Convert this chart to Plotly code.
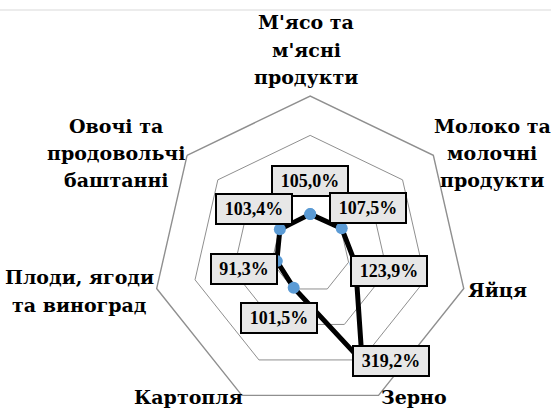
import math
import plotly.graph_objects as go

categories = ["М'ясо та м'ясні продукти", "Молоко та молочні продукти", "Яйця", "Зерно",
              "Картопля", "Плоди, ягоди та виноград", "Овочі та продовольчі баштанні"]
cat_lines = [["М'ясо та", "м'ясні", "продукти"], ["Молоко та", "молочні", "продукти"], ["Яйця"], ["Зерно"],
             ["Картопля"], ["Плоди, ягоди", "та виноград"], ["Овочі та", "продовольчі", "баштанні"]]
values = [105.0, 107.5, 123.9, 319.2, 101.5, 91.3, 103.4]
value_text = ["105,0%", "107,5%", "123,9%", "319,2%", "101,5%", "91,3%", "103,4%"]

W, H = 551, 411
RMAX = 420
dom_x = [0.27713, 0.84882]
dom_y = [0.0, 0.76642]

fig = go.Figure()
fig.add_trace(go.Scatterpolar(
    r=values + values[:1], theta=categories + categories[:1],
    mode="lines+markers",
    line=dict(color="black", width=5),
    marker=dict(color="#5b9bd5", size=12),
    hoverinfo="skip", showlegend=False))

serif = "Liberation Serif, DejaVu Serif, serif"
cyr_serif = "DejaVu Serif, Liberation Serif, serif"
annotations = []
cxp = (dom_x[0] + dom_x[1]) / 2
cyp = (dom_y[0] + dom_y[1]) / 2
Rpx = min((dom_x[1] - dom_x[0]) * W, (dom_y[1] - dom_y[0]) * H) / 2
n = len(values)
label_offsets = [(0, -33), (26, -20), (34, 7), (29, 0), (-15, 30), (-33, 8), (-26, -20)]
for i, (v, t) in enumerate(zip(values, value_text)):
    ang = math.radians(90 - i * 360 / n)
    rp = v / RMAX * Rpx
    xp = cxp + rp * math.cos(ang) / W
    yp = cyp + rp * math.sin(ang) / H
    dx, dy = label_offsets[i]
    annotations.append(dict(
        x=xp, y=yp, xref="paper", yref="paper", text="<b>" + t + "</b>", showarrow=False,
        xshift=dx, yshift=-dy, xanchor="center", yanchor="middle",
        font=dict(family=serif, size=18, color="black"),
        bgcolor="#e7e7e7", bordercolor="black", borderwidth=2, borderpad=3,
        width=(58 if len(t) < 6 else 68), height=22, align="center"))

cat_pos = [(306, 50), (492, 153), (497, 290), (414, 397), (188, 397), (79, 291), (116, 153)]
line_gap = 27.5
for lines, (px, py) in zip(cat_lines, cat_pos):
    k = len(lines)
    for j, ln in enumerate(lines):
        ly = py + (j - (k - 1) / 2) * line_gap
        annotations.append(dict(
            x=px / W, y=1 - ly / H, xref="paper", yref="paper", text="<b>" + ln + "</b>",
            showarrow=False, xanchor="center", yanchor="middle", align="center",
            font=dict(family=cyr_serif, size=19, color="black")))

fig.update_layout(
    width=W, height=H, autosize=False,
    margin=dict(l=0, r=0, t=0, b=0),
    paper_bgcolor="white", plot_bgcolor="white",
    polar=dict(
        domain=dict(x=dom_x, y=dom_y),
        bgcolor="white",
        gridshape="linear",
        radialaxis=dict(range=[0, RMAX], tickvals=[105, 210, 315], showticklabels=False,
                        ticks="", showline=False, gridcolor="#8f8f8f", gridwidth=1.4),
        angularaxis=dict(direction="clockwise", rotation=90, showticklabels=False,
                         ticks="", showgrid=False, showline=True,
                         linecolor="#8f8f8f", linewidth=1.4),
    ),
    annotations=annotations,
    shapes=[dict(type="line", xref="paper", yref="paper", x0=0, x1=1,
                 y0=1 - 10 / H, y1=1 - 10 / H, line=dict(color="#d9d9d9", width=1))],
)

fig.write_html("out.html", config={"displayModeBar": False},
               post_script="document.body.style.margin='0';document.body.style.overflow='hidden';")
